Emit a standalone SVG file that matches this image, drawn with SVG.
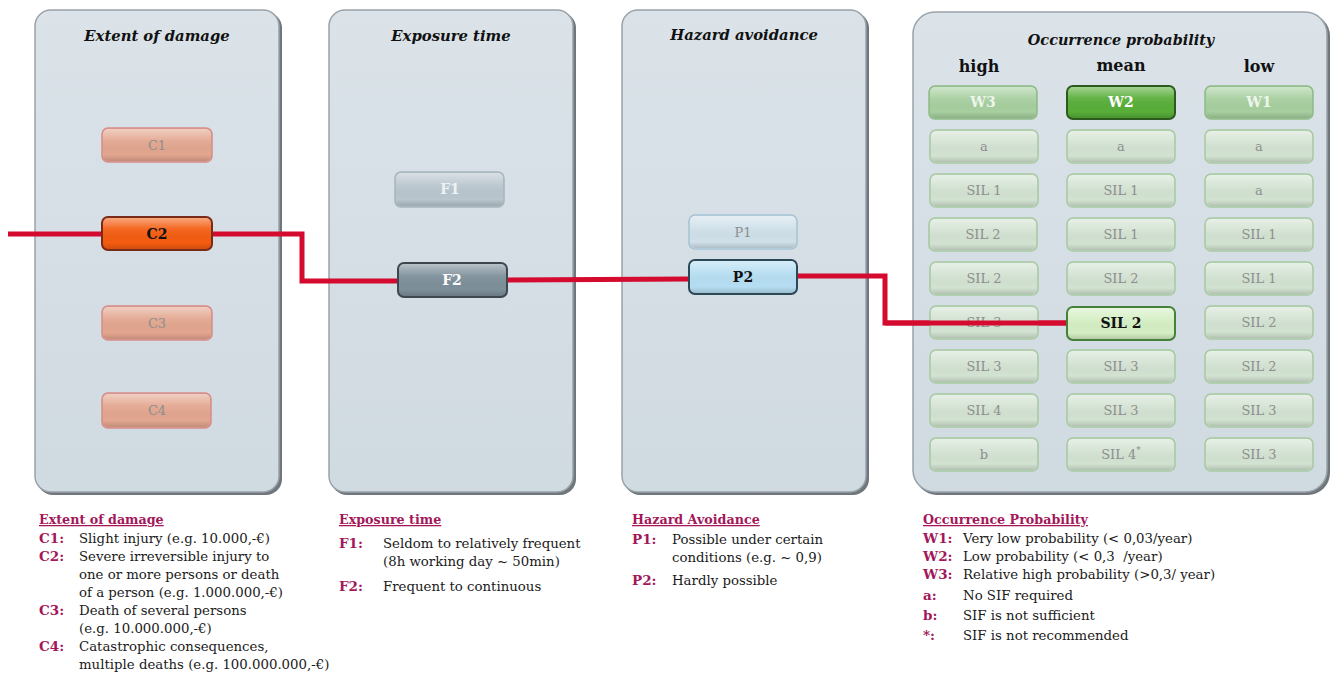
<svg xmlns="http://www.w3.org/2000/svg" width="1330" height="679" viewBox="0 0 1330 679">
<defs>
<linearGradient id="panelG" x1="0" y1="0" x2="0" y2="1">
<stop offset="0" stop-color="#dbe3e9"/><stop offset="1" stop-color="#d0dae1"/>
</linearGradient>
<linearGradient id="gloss" x1="0" y1="0" x2="0" y2="1">
<stop offset="0" stop-color="#ffffff" stop-opacity="0.45"/>
<stop offset="0.35" stop-color="#ffffff" stop-opacity="0.08"/>
<stop offset="0.8" stop-color="#000000" stop-opacity="0"/>
<stop offset="1" stop-color="#000000" stop-opacity="0.15"/>
</linearGradient>
</defs>
<style>
.shadow{fill:#6f777d}
.panel{fill:url(#panelG);stroke:#9aa3a9;stroke-width:1.5}
.ptitle{font-family:"DejaVu Serif",serif;font-weight:bold;font-style:italic;font-size:14.8px;fill:#111;text-anchor:middle}
.colh{font-family:"DejaVu Serif",serif;font-weight:bold;font-size:16px;fill:#111;text-anchor:middle}
.gl{fill:url(#gloss);stroke:none}
.lbl{font-family:"DejaVu Serif",serif;font-size:13px;text-anchor:middle;fill:#8e8e8e}
.lblb{font-family:"DejaVu Serif",serif;font-size:14px;font-weight:bold;text-anchor:middle}
.cf{fill:#e3a68f;stroke:#d68c8c;stroke-width:1.5}
.cs{fill:#f45c10;stroke:#7a2a18;stroke-width:2}
.ff{fill:#b9c6ce;stroke:#a7b5bd;stroke-width:1.5}
.fs{fill:#7d8f9a;stroke:#3c474e;stroke-width:2}
.pf{fill:#d0e1ea;stroke:#a5c4d3;stroke-width:1.5}
.ps{fill:#b6def2;stroke:#2c4756;stroke-width:2}
.wf{fill:#a7cf9f;stroke:#8cbb86;stroke-width:1.5}
.ws{fill:#58ae38;stroke:#2d5a1e;stroke-width:2}
.cell{fill:#d3e3d2;stroke:#a7c9a1;stroke-width:1.5}
.sel{fill:#d5efc3;stroke:#44813a;stroke-width:2}
.conn{fill:none;stroke:#d40a2e;stroke-width:5;stroke-linejoin:miter}
.lh{font-family:"DejaVu Serif",serif;font-weight:bold;font-size:12.7px;fill:#a3175a;text-decoration:underline}
.lk{font-family:"DejaVu Serif",serif;font-weight:bold;font-size:13.5px;fill:#a3175a}
.lt{font-family:"DejaVu Serif",serif;font-size:13.3px;fill:#1a1a1a}
</style>
<rect width="1330" height="679" fill="#ffffff"/>

<g id="panel-extent">
<rect class="shadow" x="37" y="12" width="245" height="483" rx="16"/>
<rect class="panel" x="35" y="10" width="244" height="482" rx="16"/>
<text class="ptitle" x="157" y="41">Extent of damage</text>
</g>
<g id="panel-exposure">
<rect class="shadow" x="331" y="12" width="245" height="483" rx="16"/>
<rect class="panel" x="329" y="10" width="244" height="482" rx="16"/>
<text class="ptitle" x="451" y="41">Exposure time</text>
</g>
<g id="panel-hazard">
<rect class="shadow" x="624" y="12" width="245" height="483" rx="16"/>
<rect class="panel" x="622" y="10" width="244" height="482" rx="16"/>
<text class="ptitle" x="744" y="40">Hazard avoidance</text>
</g>
<g id="panel-occurrence">
<rect class="shadow" x="915" y="14" width="415" height="481" rx="22"/>
<rect class="panel" x="913" y="12" width="414" height="480" rx="22"/>
<text class="ptitle" x="1121" y="45" style="font-size:14.4px">Occurrence probability</text>
<text class="colh" x="979" y="72">high</text>
<text class="colh" x="1121" y="71">mean</text>
<text class="colh" x="1259" y="72">low</text>
</g>

<g id="connectors">
<polyline class="conn" points="8,234 302,234 302,281 398,281"/>
<polyline class="conn" points="507,280 689,279"/>
<polyline class="conn" points="797,276 885,276 885,323 1066,323"/>
</g>

<g id="node-C1"><rect class="cf" x="102" y="128" width="110" height="34" rx="6"/><rect class="gl" x="103" y="129" width="108" height="32" rx="5"/><text class="lbl" x="157" y="150">C1</text></g>
<g id="node-C2"><rect class="cs" x="102" y="217" width="110" height="33" rx="6"/><rect class="gl" x="103" y="218" width="108" height="31" rx="5"/><text class="lblb" x="157" y="239" fill="#111">C2</text></g>
<g id="node-C3"><rect class="cf" x="102" y="306" width="110" height="34" rx="6"/><rect class="gl" x="103" y="307" width="108" height="32" rx="5"/><text class="lbl" x="157" y="328">C3</text></g>
<g id="node-C4"><rect class="cf" x="102" y="393" width="109" height="35" rx="6"/><rect class="gl" x="103" y="394" width="107" height="33" rx="5"/><text class="lbl" x="157" y="415">C4</text></g>

<g id="node-F1"><rect class="ff" x="395" y="172" width="109" height="35" rx="6"/><rect class="gl" x="396" y="173" width="107" height="33" rx="5"/><text class="lblb" x="450" y="194" fill="#eef2f4">F1</text></g>
<g id="node-F2"><rect class="fs" x="398" y="263" width="109" height="34" rx="6"/><rect class="gl" x="399" y="264" width="107" height="32" rx="5"/><text class="lblb" x="452" y="285" fill="#ffffff">F2</text></g>

<g id="node-P1"><rect class="pf" x="689" y="215" width="108" height="34" rx="6"/><rect class="gl" x="690" y="216" width="106" height="32" rx="5"/><text class="lbl" x="743" y="237">P1</text></g>
<g id="node-P2"><rect class="ps" x="689" y="260" width="108" height="34" rx="6"/><rect class="gl" x="690" y="261" width="106" height="32" rx="5"/><text class="lblb" x="743" y="282" fill="#111">P2</text></g>

<g id="node-W3"><rect class="wf" x="929" y="86" width="108" height="33" rx="6"/><rect class="gl" x="930" y="87" width="106" height="31" rx="5"/><text class="lblb" x="983" y="107" fill="#eef6ec">W3</text></g>
<g id="node-W2"><rect class="ws" x="1067" y="86" width="108" height="33" rx="6"/><rect class="gl" x="1068" y="87" width="106" height="31" rx="5"/><text class="lblb" x="1121" y="107" fill="#ffffff">W2</text></g>
<g id="node-W1"><rect class="wf" x="1205" y="86" width="108" height="33" rx="6"/><rect class="gl" x="1206" y="87" width="106" height="31" rx="5"/><text class="lblb" x="1259" y="107" fill="#eef6ec">W1</text></g>

<g id="col-high">
<g id="h1"><rect class="cell" x="930" y="130" width="108" height="33" rx="6"/><rect class="gl" x="931" y="131" width="106" height="31" rx="5"/><text class="lbl" x="984" y="151">a</text></g>
<g id="h2"><rect class="cell" x="930" y="174" width="108" height="33" rx="6"/><rect class="gl" x="931" y="175" width="106" height="31" rx="5"/><text class="lbl" x="984" y="195">SIL 1</text></g>
<g id="h3"><rect class="cell" x="929" y="218" width="108" height="33" rx="6"/><rect class="gl" x="930" y="219" width="106" height="31" rx="5"/><text class="lbl" x="983" y="239">SIL 2</text></g>
<g id="h4"><rect class="cell" x="930" y="262" width="108" height="33" rx="6"/><rect class="gl" x="931" y="263" width="106" height="31" rx="5"/><text class="lbl" x="984" y="283">SIL 2</text></g>
<g id="h5"><rect class="cell" x="930" y="306" width="108" height="33" rx="6"/><rect class="gl" x="931" y="307" width="106" height="31" rx="5"/><text class="lbl" x="984" y="327">SIL 3</text></g>
<g id="h6"><rect class="cell" x="930" y="350" width="108" height="33" rx="6"/><rect class="gl" x="931" y="351" width="106" height="31" rx="5"/><text class="lbl" x="984" y="371">SIL 3</text></g>
<g id="h7"><rect class="cell" x="930" y="394" width="108" height="33" rx="6"/><rect class="gl" x="931" y="395" width="106" height="31" rx="5"/><text class="lbl" x="984" y="415">SIL 4</text></g>
<g id="h8"><rect class="cell" x="930" y="438" width="108" height="33" rx="6"/><rect class="gl" x="931" y="439" width="106" height="31" rx="5"/><text class="lbl" x="984" y="459">b</text></g>
</g>
<g id="col-mean">
<g id="m1"><rect class="cell" x="1067" y="130" width="108" height="33" rx="6"/><rect class="gl" x="1068" y="131" width="106" height="31" rx="5"/><text class="lbl" x="1121" y="151">a</text></g>
<g id="m2"><rect class="cell" x="1067" y="174" width="108" height="33" rx="6"/><rect class="gl" x="1068" y="175" width="106" height="31" rx="5"/><text class="lbl" x="1121" y="195">SIL 1</text></g>
<g id="m3"><rect class="cell" x="1067" y="218" width="108" height="33" rx="6"/><rect class="gl" x="1068" y="219" width="106" height="31" rx="5"/><text class="lbl" x="1121" y="239">SIL 1</text></g>
<g id="m4"><rect class="cell" x="1067" y="262" width="108" height="33" rx="6"/><rect class="gl" x="1068" y="263" width="106" height="31" rx="5"/><text class="lbl" x="1121" y="283">SIL 2</text></g>
<g id="m5"><rect class="sel" x="1067" y="307" width="108" height="33" rx="6"/><rect class="gl" x="1068" y="308" width="106" height="31" rx="5"/><text class="lblb" x="1121" y="328" fill="#111">SIL 2</text></g>
<g id="m6"><rect class="cell" x="1067" y="350" width="108" height="33" rx="6"/><rect class="gl" x="1068" y="351" width="106" height="31" rx="5"/><text class="lbl" x="1121" y="371">SIL 3</text></g>
<g id="m7"><rect class="cell" x="1067" y="394" width="108" height="33" rx="6"/><rect class="gl" x="1068" y="395" width="106" height="31" rx="5"/><text class="lbl" x="1121" y="415">SIL 3</text></g>
<g id="m8"><rect class="cell" x="1067" y="438" width="108" height="33" rx="6"/><rect class="gl" x="1068" y="439" width="106" height="31" rx="5"/><text class="lbl" x="1121" y="459">SIL 4<tspan dy="-6" font-size="9">*</tspan></text></g>
</g>
<g id="col-low">
<g id="l1"><rect class="cell" x="1205" y="130" width="108" height="33" rx="6"/><rect class="gl" x="1206" y="131" width="106" height="31" rx="5"/><text class="lbl" x="1259" y="151">a</text></g>
<g id="l2"><rect class="cell" x="1205" y="174" width="108" height="33" rx="6"/><rect class="gl" x="1206" y="175" width="106" height="31" rx="5"/><text class="lbl" x="1259" y="195">a</text></g>
<g id="l3"><rect class="cell" x="1205" y="218" width="108" height="33" rx="6"/><rect class="gl" x="1206" y="219" width="106" height="31" rx="5"/><text class="lbl" x="1259" y="239">SIL 1</text></g>
<g id="l4"><rect class="cell" x="1205" y="262" width="108" height="33" rx="6"/><rect class="gl" x="1206" y="263" width="106" height="31" rx="5"/><text class="lbl" x="1259" y="283">SIL 1</text></g>
<g id="l5"><rect class="cell" x="1205" y="306" width="108" height="33" rx="6"/><rect class="gl" x="1206" y="307" width="106" height="31" rx="5"/><text class="lbl" x="1259" y="327">SIL 2</text></g>
<g id="l6"><rect class="cell" x="1205" y="350" width="108" height="33" rx="6"/><rect class="gl" x="1206" y="351" width="106" height="31" rx="5"/><text class="lbl" x="1259" y="371">SIL 2</text></g>
<g id="l7"><rect class="cell" x="1205" y="394" width="108" height="33" rx="6"/><rect class="gl" x="1206" y="395" width="106" height="31" rx="5"/><text class="lbl" x="1259" y="415">SIL 3</text></g>
<g id="l8"><rect class="cell" x="1205" y="438" width="108" height="33" rx="6"/><rect class="gl" x="1206" y="439" width="106" height="31" rx="5"/><text class="lbl" x="1259" y="459">SIL 3</text></g>
</g>

<g id="connector-overlay">
<polyline class="conn" points="885,323 1066,323"/>
</g>

<g id="legend-extent">
<text class="lh" x="39" y="524">Extent of damage</text>
<text class="lk" x="39" y="543">C1:</text><text class="lt" x="79" y="543">Slight injury (e.g. 10.000,-€)</text>
<text class="lk" x="39" y="561">C2:</text><text class="lt" x="79" y="561">Severe irreversible injury to</text>
<text class="lt" x="79" y="579">one or more persons or death</text>
<text class="lt" x="79" y="597">of a person (e.g. 1.000.000,-€)</text>
<text class="lk" x="39" y="615">C3:</text><text class="lt" x="79" y="615">Death of several persons</text>
<text class="lt" x="79" y="633">(e.g. 10.000.000,-€)</text>
<text class="lk" x="39" y="651">C4:</text><text class="lt" x="79" y="651">Catastrophic consequences,</text>
<text class="lt" x="79" y="669">multiple deaths (e.g. 100.000.000,-€)</text>
</g>
<g id="legend-exposure">
<text class="lh" x="339" y="524">Exposure time</text>
<text class="lk" x="339" y="548">F1:</text><text class="lt" x="383" y="548">Seldom to relatively frequent</text>
<text class="lt" x="383" y="566">(8h working day ~ 50min)</text>
<text class="lk" x="339" y="591">F2:</text><text class="lt" x="383" y="591">Frequent to continuous</text>
</g>
<g id="legend-hazard">
<text class="lh" x="632" y="524">Hazard Avoidance</text>
<text class="lk" x="632" y="544">P1:</text><text class="lt" x="672" y="544">Possible under certain</text>
<text class="lt" x="672" y="562">conditions (e.g. ~ 0,9)</text>
<text class="lk" x="632" y="585">P2:</text><text class="lt" x="672" y="585">Hardly possible</text>
</g>
<g id="legend-occurrence">
<text class="lh" x="923" y="524">Occurrence Probability</text>
<text class="lk" x="923" y="543">W1:</text><text class="lt" x="963" y="543">Very low probability (&lt; 0,03/year)</text>
<text class="lk" x="923" y="561">W2:</text><text class="lt" x="963" y="561" xml:space="preserve">Low probability (&lt; 0,3  /year)</text>
<text class="lk" x="923" y="579">W3:</text><text class="lt" x="963" y="579">Relative high probability (&gt;0,3/ year)</text>
<text class="lk" x="923" y="600">a:</text><text class="lt" x="963" y="600">No SIF required</text>
<text class="lk" x="923" y="620">b:</text><text class="lt" x="963" y="620">SIF is not sufficient</text>
<text class="lk" x="923" y="640">*:</text><text class="lt" x="963" y="640">SIF is not recommended</text>
</g>
</svg>
